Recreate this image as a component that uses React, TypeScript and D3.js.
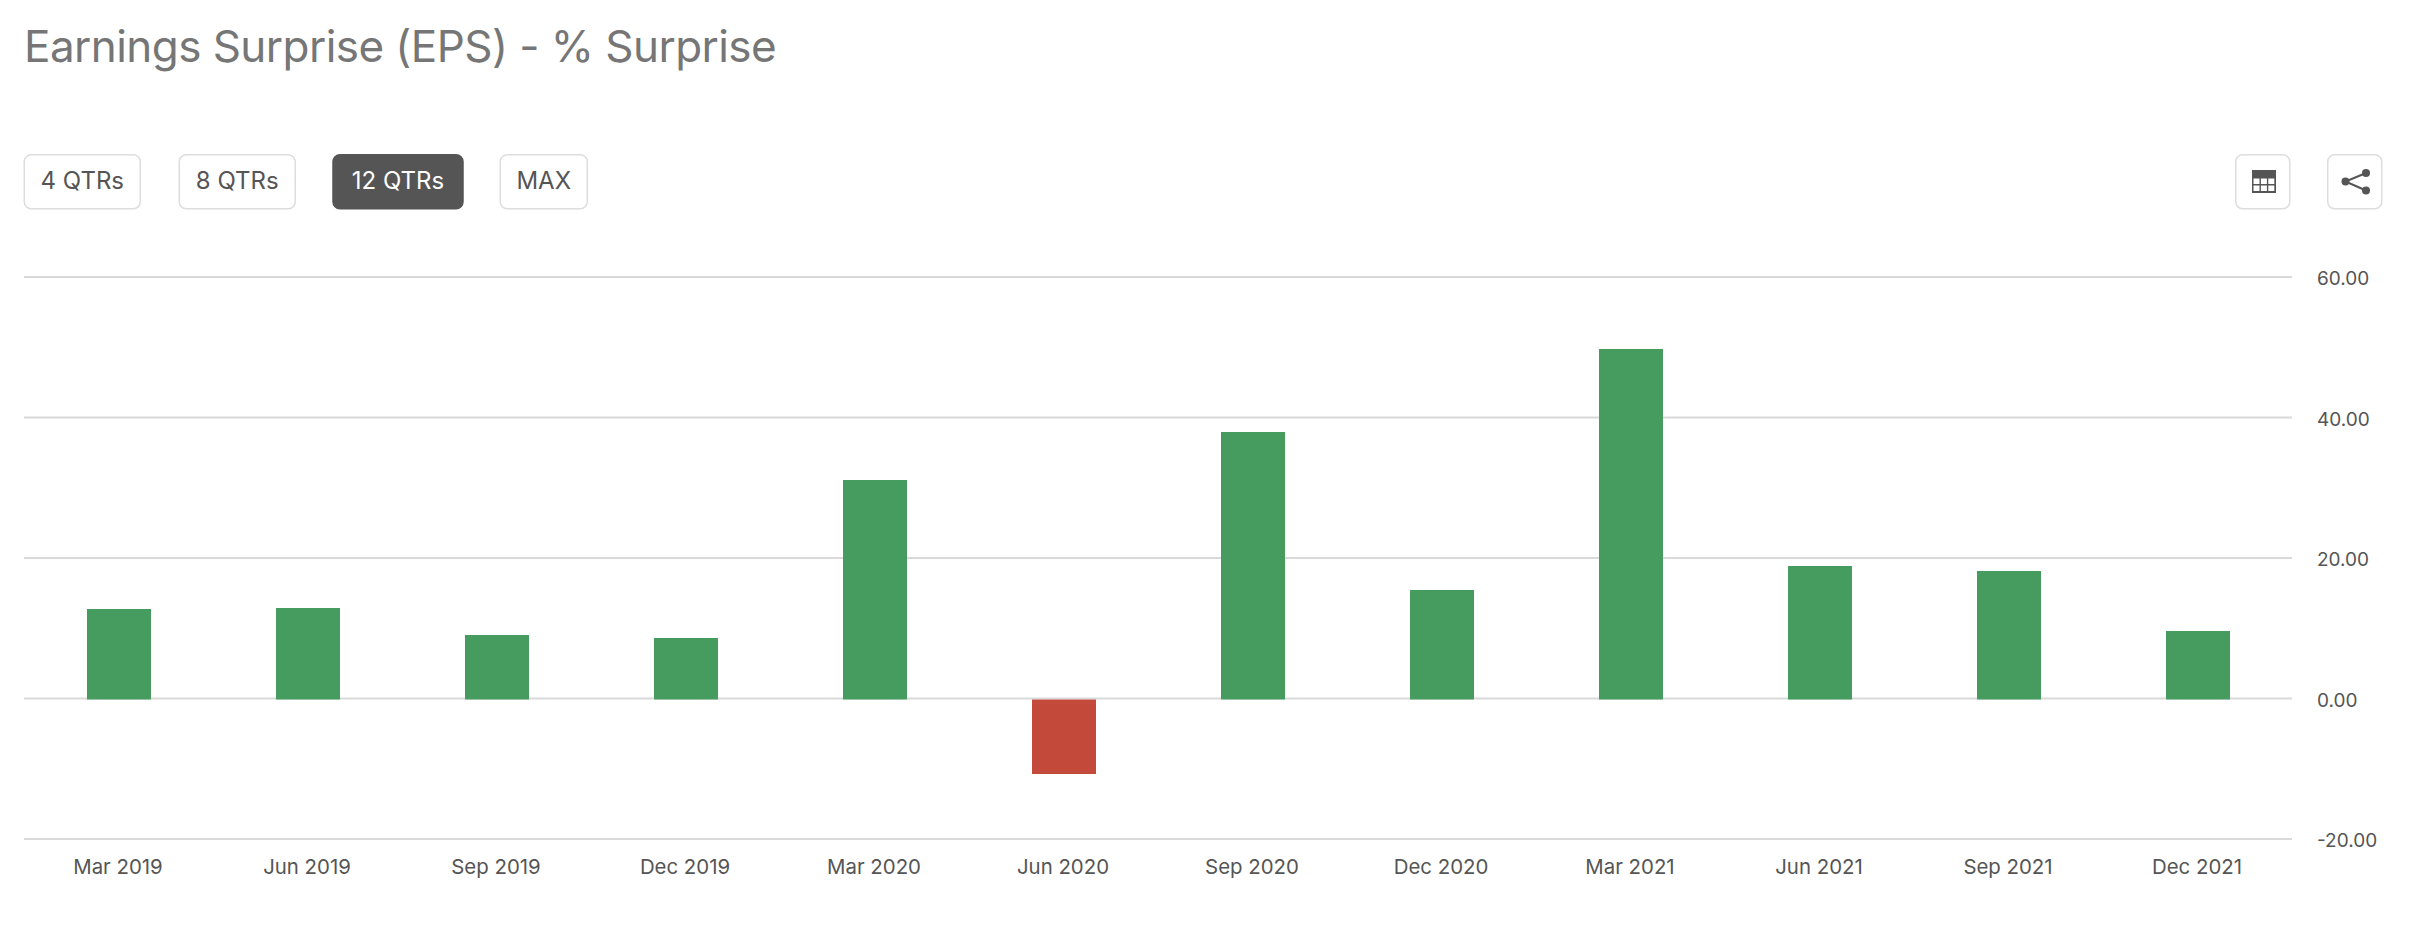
import React from "react";
import * as d3 from "d3";

const categories = ["Mar 2019","Jun 2019","Sep 2019","Dec 2019","Mar 2020","Jun 2020","Sep 2020","Dec 2020","Mar 2021","Jun 2021","Sep 2021","Dec 2021"];
const surprise = [12.67,12.95,8.97,8.68,31.17,-10.68,38.0,15.5,49.68,18.93,18.08,9.54];
const yTicks = [60,40,20,0,-20];
const buttons = [
  { label: "4 QTRs", x0: 23.5, x1: 141, active: false },
  { label: "8 QTRs", x0: 178.5, x1: 296, active: false },
  { label: "12 QTRs", x0: 333, x1: 463, active: true },
  { label: "MAX", x0: 499.5, x1: 588, active: false },
];

const FONT = "Inter, Roboto, sans-serif";
const GREEN = "#469b5f";
const RED = "#c34a3a";
const TEXT = "#555";
const LINE = "#d9d9d9";

export default function App() {
  const x = d3.scaleBand<string>().domain(categories).range([24, 2292]);
  const y = d3.scaleLinear().domain([-20, 60]).range([839, 277]);
  const bw = 64;
  return (
    <svg width={2420} height={948} style={{ position: "absolute", left: 0, top: 0, background: "#fff" }} fontFamily={FONT}>
      <text x={24} y={62} fontSize={44} fill="#767676" letterSpacing={-0.55}>Earnings Surprise (EPS) - % Surprise</text>
      {buttons.map((b) => (
        <g key={b.label}>
          <rect x={b.x0 + (b.active ? 0 : 0.75)} y={154.75} width={b.x1 - b.x0 - (b.active ? 0 : 1.5)} height={54} rx={7} fill={b.active ? "#555" : "#fff"} stroke={b.active ? "#555" : "#ddd"} strokeWidth={1.5} />
          <text x={(b.x0 + b.x1) / 2} y={189} fontSize={24} textAnchor="middle" fill={b.active ? "#fff" : TEXT}>{b.label}</text>
        </g>
      ))}
      <g>
        <rect x={2235.75} y={154.75} width={54} height={54} rx={7} fill="#fff" stroke="#ddd" strokeWidth={1.5} />
        <rect x={2252} y={170} width={24} height={23} fill="#555" />
        {[0,1,2].map((c) => [0,1].map((r) => (
          <rect key={c + "-" + r} x={2253.5 + c * 7.4} y={178.5 + r * 7} width={6} height={5.5} fill="#fff" />
        )))}
      </g>
      <g>
        <rect x={2327.75} y={154.75} width={54} height={54} rx={7} fill="#fff" stroke="#ddd" strokeWidth={1.5} />
        <path d="M2366 173 L2345.5 181.5 L2366 190.5" fill="none" stroke="#555" strokeWidth={2} />
        <circle cx={2366} cy={173} r={4} fill="#555" />
        <circle cx={2345.5} cy={181.5} r={4} fill="#555" />
        <circle cx={2366} cy={190.5} r={4} fill="#555" />
      </g>
      {yTicks.map((t) => (
        <g key={t}>
          <line x1={24} x2={2292} y1={y(t)} y2={y(t)} stroke={LINE} strokeWidth={2} />
          <text x={2317} y={y(t) + 8} fontSize={19} fill={TEXT}>{d3.format(".2f")(t).replace("\u2212", "-")}</text>
        </g>
      ))}
      {categories.map((c, i) => {
        const v = surprise[i];
        const cx = Math.round(x(c)! + x.bandwidth() / 2);
        const base = y(0) + 1;
        const end = Math.round(y(v));
        return (
          <g key={c}>
            <rect x={cx - bw / 2} y={Math.min(end, base)} width={bw} height={Math.abs(end - base)} fill={v >= 0 ? GREEN : RED} />
            <text x={cx - 1} y={873.5} fontSize={20.4} textAnchor="middle" fill={TEXT}>{c}</text>
          </g>
        );
      })}
    </svg>
  );
}
